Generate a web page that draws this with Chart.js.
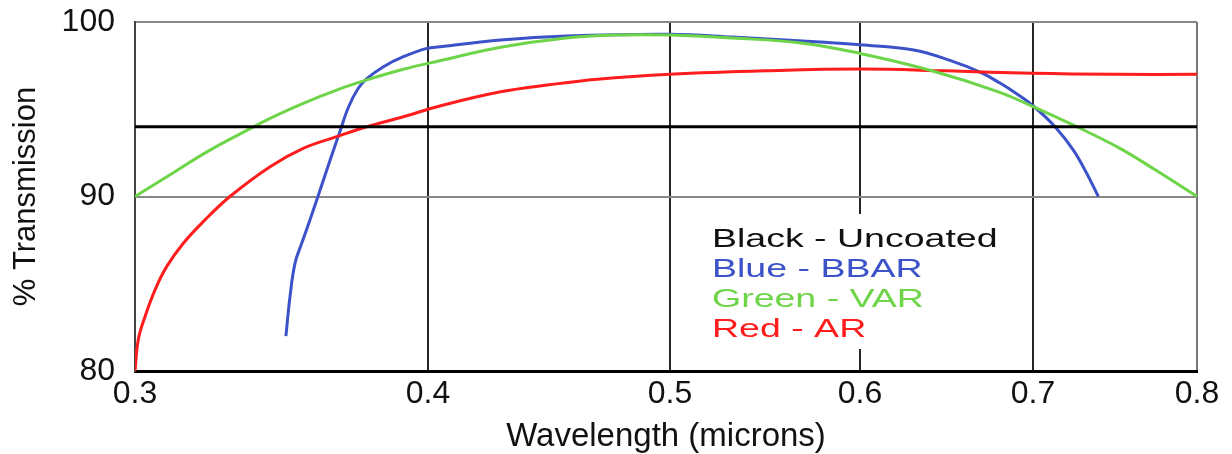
<!DOCTYPE html>
<html>
<head>
<meta charset="utf-8">
<script src="https://cdn.jsdelivr.net/npm/chart.js@4/dist/chart.umd.min.js"></script>
<style>
  body { margin: 0; background: #fff; }
  #wrap { width: 1232px; height: 454px; position: relative; }
</style>
</head>
<body>
<div id="wrap"><canvas id="transmission_canvas"></canvas></div>
<script>
// tick labels
const xTicks = [0.3, 0.4, 0.5, 0.6, 0.7, 0.8];
const yTicks = [80, 90, 100];

// Black - Uncoated
const uncoatedX = [0.3, 0.8];
const uncoatedT = [94, 94];

// Blue - BBAR
const bbarX = [0.3515, 0.3529, 0.3546, 0.3569, 0.3597, 0.3626, 0.3666, 0.370, 0.3728, 0.3762, 0.3791, 0.3848, 0.3916, 0.3996, 0.4049, 0.43, 0.457, 0.50, 0.533, 0.579, 0.60, 0.631, 0.652, 0.670, 0.6809, 0.6903, 0.70, 0.7134, 0.7246, 0.7327, 0.7398];
const bbarT = [82.0, 84.26, 86.17, 87.32, 88.65, 90.09, 92.09, 93.75, 95.1, 96.2, 96.75, 97.44, 98.01, 98.49, 98.58, 98.97, 99.2, 99.3, 99.14, 98.85, 98.7, 98.4, 97.8, 97.1, 96.5, 95.9, 95.2, 94.0, 92.66, 91.33, 90.0];

// Green - VAR
const varX = [0.30, 0.311, 0.325, 0.340, 0.3461, 0.3574, 0.3688, 0.3791, 0.3916, 0.4049, 0.43, 0.457, 0.478, 0.50, 0.533, 0.569, 0.60, 0.64, 0.68, 0.70, 0.7266, 0.753, 0.775, 0.80];
const varT = [90.0, 91.15, 92.6, 93.95, 94.48, 95.34, 96.1, 96.68, 97.29, 97.78, 98.55, 99.08, 99.25, 99.25, 99.08, 98.8, 98.2, 97.25, 96.0, 95.15, 94.0, 92.76, 91.5, 90.0];

// Red - AR
const arX = [0.30, 0.3011, 0.3034, 0.3068, 0.3108, 0.3165, 0.3233, 0.3324, 0.3461, 0.3574, 0.3688, 0.3791, 0.3916, 0.4049, 0.43, 0.45, 0.47, 0.50, 0.55, 0.60, 0.65, 0.70, 0.75, 0.80];
const arT = [80.0, 81.78, 83.11, 84.64, 85.98, 87.32, 88.56, 90.0, 91.71, 92.76, 93.43, 94.0, 94.57, 95.19, 96.0, 96.4, 96.72, 97.0, 97.2, 97.3, 97.2, 97.06, 97.0, 97.0];

const legendLines = [
  { text: "Black - Uncoated", color: "#111111" },
  { text: "Blue - BBAR",      color: "rgb(60, 82, 200)" },
  { text: "Green - VAR",      color: "rgb(110, 212, 72)" },
  { text: "Red - AR",         color: "rgb(255, 28, 28)" }
];

function toPoints(xs, ys) {
  return xs.map((x, i) => ({ x: x, y: ys[i] }));
}

// the wavelength axis of the original is not evenly spaced,
// so use a linear scale with a piecewise warp between the ticks
class WarpScale extends Chart.LinearScale {
  _warp(v) {
    const stops = this.options.warpStops, fr = this.options.warpFractions;
    if (v <= stops[0]) return fr[0] + (v - stops[0]) / (stops[1] - stops[0]) * (fr[1] - fr[0]);
    for (let i = 1; i < stops.length; i++) {
      if (v <= stops[i] || i === stops.length - 1) {
        return fr[i - 1] + (v - stops[i - 1]) / (stops[i] - stops[i - 1]) * (fr[i] - fr[i - 1]);
      }
    }
  }
  _unwarp(d) {
    const stops = this.options.warpStops, fr = this.options.warpFractions;
    for (let i = 1; i < fr.length; i++) {
      if (d <= fr[i] || i === fr.length - 1) {
        return stops[i - 1] + (d - fr[i - 1]) / (fr[i] - fr[i - 1]) * (stops[i] - stops[i - 1]);
      }
    }
  }
  getPixelForValue(value) {
    if (value === null || value === undefined || isNaN(value)) return NaN;
    return this.getPixelForDecimal(this._warp(value));
  }
  getValueForPixel(pixel) {
    return this._unwarp(this.getDecimalForPixel(pixel));
  }
}
WarpScale.id = "warp";
WarpScale.defaults = Chart.LinearScale.defaults;
Chart.register(WarpScale);

const legendBox = {
  id: "legendBox",
  afterDraw(chart) {
    const ctx = chart.ctx;
    ctx.save();
    ctx.fillStyle = "#ffffff";
    ctx.fillRect(690, 214, 330, 135);
    ctx.font = "25px 'Liberation Sans', Arial, sans-serif";
    ctx.textBaseline = "alphabetic";
    legendLines.forEach((line, i) => {
      ctx.save();
      ctx.translate(712, 247 + i * 30);
      ctx.scale(1.5, 1);
      ctx.fillStyle = line.color;
      ctx.fillText(line.text, 0, 0);
      ctx.restore();
    });
    ctx.restore();
  }
};

const lineStyle = {
  showLine: true,
  pointRadius: 0,
  borderWidth: 3,
  fill: false,
  tension: 0.4
};

const context = document.getElementById("transmission_canvas").getContext("2d");

const chart = new Chart(context, {
  type: "scatter",
  data: {
    datasets: [
      Object.assign({ label: "Uncoated", data: toPoints(uncoatedX, uncoatedT), borderColor: "#000000" }, lineStyle),
      Object.assign({ label: "VAR",  data: toPoints(varX, varT),   borderColor: "rgb(110, 212, 72)" }, lineStyle),
      Object.assign({ label: "AR",   data: toPoints(arX, arT),     borderColor: "rgb(255, 28, 28)" }, lineStyle),
      Object.assign({ label: "BBAR", data: toPoints(bbarX, bbarT), borderColor: "rgb(60, 82, 200)" }, lineStyle)
    ]
  },
  options: {
    responsive: true,
    maintainAspectRatio: false,
    animation: false,
    layout: { padding: { top: 22, right: 35, bottom: 0, left: 0 } },
    plugins: {
      legend: { display: false },
      tooltip: { enabled: false }
    },
    scales: {
      x: {
        type: "warp",
        min: 0.3,
        max: 0.8,
        warpStops: xTicks,
        warpFractions: [0, 0.2759, 0.5038, 0.6827, 0.8456, 1],
        afterBuildTicks: (s) => { s.ticks = xTicks.map(v => ({ value: v })); },
        afterFit: (s) => { s.height = 83; s.paddingLeft = 0; s.paddingRight = 0; },
        ticks: {
          color: "#111",
          padding: 4,
          maxRotation: 0,
          font: { family: "'Liberation Sans', Arial, sans-serif", size: 32 },
          callback: (v) => Number(v).toFixed(1)
        },
        grid: {
          drawTicks: false,
          lineWidth: 2,
          color: (c) => (c.tick && c.tick.value >= 0.79) ? "#777777" : "#262626"
        },
        border: { display: true, color: "#000000", width: 3 },
        title: {
          display: true,
          text: "Wavelength (microns)",
          color: "#111",
          padding: { top: 0, bottom: -3 },
          font: { family: "'Liberation Sans', Arial, sans-serif", size: 33 }
        }
      },
      y: {
        min: 80,
        max: 100,
        afterBuildTicks: (s) => { s.ticks = yTicks.map(v => ({ value: v })); },
        afterFit: (s) => { s.width = 135; s.paddingTop = 0; s.paddingBottom = 0; },
        ticks: {
          color: "#111",
          padding: 20,
          font: { family: "'Liberation Sans', Arial, sans-serif", size: 32 }
        },
        grid: {
          drawTicks: false,
          lineWidth: 2,
          color: (c) => (c.tick && c.tick.value <= 80) ? "rgba(0,0,0,0)" : "#888888"
        },
        border: { display: true, color: "#444444", width: 2 },
        title: {
          display: true,
          text: "% Transmission",
          color: "#111",
          padding: { top: 8, bottom: 0 },
          font: { family: "'Liberation Sans', Arial, sans-serif", size: 31 }
        }
      }
    }
  },
  plugins: [legendBox]
});
</script>
</body>
</html>
